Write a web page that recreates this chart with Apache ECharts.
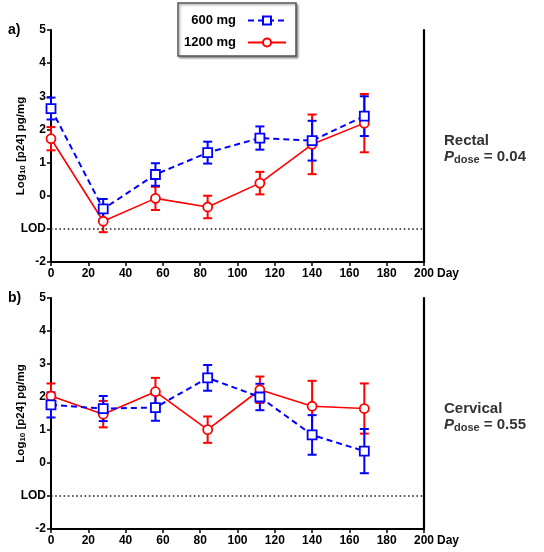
<!DOCTYPE html>
<html><head><meta charset="utf-8">
<script src="https://cdn.jsdelivr.net/npm/echarts@6/dist/echarts.min.js"></script>
<style>html,body{margin:0;padding:0;background:#fff}#c{width:544px;height:552px}</style>
</head><body><div id="c"></div>
<script>
// ---- data ----
const days = [0, 28, 56, 84, 112, 140, 168];
const rectal600 = [2.63, -0.40, 0.64, 1.30, 1.74, 1.66, 2.40];
const rectal600Err = [0.33, 0.30, 0.34, 0.33, 0.35, 0.60, 0.60];
const rectal1200 = [1.72, -0.77, -0.08, -0.34, 0.38, 1.55, 2.19];
const rectal1200Err = [0.35, 0.33, 0.35, 0.34, 0.34, 0.90, 0.88];
const cervical600 = [1.76, 1.65, 1.68, 2.58, 2.00, 0.85, 0.36];
const cervical600Err = [0.38, 0.38, 0.40, 0.39, 0.40, 0.60, 0.67];
const cervical1200 = [2.03, 1.48, 2.16, 1.01, 2.22, 1.72, 1.65];
const cervical1200Err = [0.38, 0.40, 0.42, 0.40, 0.40, 0.77, 0.76];
const seriesNames = ['600 mg', '1200 mg'];
const panelLabels = ['a)', 'b)'];
const siteNames = ['Rectal', 'Cervical'];
const pValues = ['0.04', '0.55'];
const lodValue = -1;
const yMin = -2, yMax = 5, yInterval = 1;
const xMin = 0, xMax = 200, xInterval = 20;

const FONT = "'Liberation Sans', Arial, sans-serif";
const BLUE = '#0000ff', RED = '#ff0000';

function pts(vals) { return days.map((d, i) => [d, vals[i]]); }
function errs(vals, e) { return days.map((d, i) => [d, vals[i] - e[i], vals[i] + e[i]]); }

function errRender(color) {
  return function (params, api) {
    const x = api.value(0), lo = api.value(1), hi = api.value(2);
    const p1 = api.coord([x, hi]), p2 = api.coord([x, lo]);
    const w = 4.5;
    const style = { stroke: color, lineWidth: 2, fill: null };
    return { type: 'group', children: [
      { type: 'line', shape: { x1: p1[0], y1: p1[1], x2: p2[0], y2: p2[1] }, style },
      { type: 'line', shape: { x1: p1[0] - w, y1: p1[1], x2: p1[0] + w, y2: p1[1] }, style },
      { type: 'line', shape: { x1: p2[0] - w, y1: p2[1], x2: p2[0] + w, y2: p2[1] }, style }
    ]};
  };
}

const grids = [
  { left: 51, top: 30, width: 373, height: 232, containLabel: false, outerBoundsMode: 'none' },
  { left: 51, top: 298, width: 373, height: 231, containLabel: false, outerBoundsMode: 'none' }
];

function xAxis(gi) {
  return {
    type: 'value', gridIndex: gi, min: xMin, max: xMax, interval: xInterval,
    axisLine: { show: true, onZero: false, lineStyle: { color: '#000', width: 2 } },
    axisTick: { show: true, inside: false, length: 4, lineStyle: { color: '#000', width: 1.5 } },
    axisLabel: { color: '#000', fontFamily: FONT, fontWeight: 'bold', fontSize: 12, margin: 6 },
    splitLine: { show: false },
    name: 'Day', nameLocation: 'end', nameGap: 13, nameMoveOverlap: false,
    nameTextStyle: { color: '#000', fontFamily: FONT, fontWeight: 'bold', fontSize: 12, verticalAlign: 'top', padding: [6, 0, 0, 0] }
  };
}
function yAxisLeft(gi) {
  return {
    type: 'value', gridIndex: gi, min: yMin, max: yMax, interval: yInterval,
    axisLine: { show: true, onZero: false, lineStyle: { color: '#000', width: 2 } },
    axisTick: { show: true, inside: false, length: 4, lineStyle: { color: '#000', width: 1.5 } },
    axisLabel: { color: '#000', fontFamily: FONT, fontWeight: 'bold', fontSize: 12, margin: 5,
      formatter: v => (v === lodValue ? 'LOD' : String(v)) },
    splitLine: { show: false },
    name: '{a|Log}{b|10}{a| [p24] pg/mg}', nameLocation: 'middle', nameGap: 24, nameRotate: 90,
    nameMoveOverlap: false,
    nameTextStyle: { rich: {
      a: { fontFamily: FONT, fontWeight: 'bold', fontSize: 11.5, color: '#000' },
      b: { fontFamily: FONT, fontWeight: 'bold', fontSize: 8, color: '#000', verticalAlign: 'bottom', padding: [4, 0, 0, 0] }
    } }
  };
}
function yAxisRight(gi) {
  return {
    type: 'value', gridIndex: gi, position: 'right', min: yMin, max: yMax, interval: yInterval,
    axisLine: { show: true, onZero: false, lineStyle: { color: '#000', width: 2.2 } },
    axisTick: { show: false }, axisLabel: { show: false }, splitLine: { show: false }
  };
}

const panels = [
  { s600: rectal600, e600: rectal600Err, s1200: rectal1200, e1200: rectal1200Err },
  { s600: cervical600, e600: cervical600Err, s1200: cervical1200, e1200: cervical1200Err }
];

const series = [];
panels.forEach((p, gi) => {
  const yIdx = gi * 2;
  series.push({
    name: seriesNames[1] + ' err', type: 'custom', xAxisIndex: gi, yAxisIndex: yIdx, z: 2,
    renderItem: errRender(RED), data: errs(p.s1200, p.e1200), encode: { x: 0, y: [1, 2] }, silent: true
  });
  series.push({
    name: seriesNames[0] + ' err', type: 'custom', xAxisIndex: gi, yAxisIndex: yIdx, z: 2,
    renderItem: errRender(BLUE), data: errs(p.s600, p.e600), encode: { x: 0, y: [1, 2] }, silent: true
  });
  series.push({
    name: seriesNames[1], type: 'line', xAxisIndex: gi, yAxisIndex: yIdx, z: 3,
    data: pts(p.s1200), symbol: 'circle', symbolSize: 9,
    itemStyle: { color: '#fff', borderColor: RED, borderWidth: 1.8 },
    lineStyle: { color: RED, width: 1.6 },
    markLine: {
      silent: true, symbol: 'none', label: { show: false },
      lineStyle: { color: '#222', width: 1.6, type: [1.6, 2.6] },
      data: [{ yAxis: lodValue }]
    }
  });
  series.push({
    name: seriesNames[0], type: 'line', xAxisIndex: gi, yAxisIndex: yIdx, z: 4,
    data: pts(p.s600), symbol: 'rect', symbolSize: 9,
    itemStyle: { color: '#fff', borderColor: BLUE, borderWidth: 1.8 },
    lineStyle: { color: BLUE, width: 2, type: [6, 4] }
  });
});

const graphics = [];
[0, 1].forEach(i => {
  const base = i === 0 ? 0 : 268;
  graphics.push({ type: 'text', left: 8, top: base + 23,
    style: { text: panelLabels[i], font: 'bold 14px ' + FONT, fill: '#000' } });
  graphics.push({ type: 'text', left: 444, top: base + 133,
    style: { text: siteNames[i], font: 'bold 15px ' + FONT, fill: '#333' } });
  graphics.push({ type: 'text', left: 444, top: base + 149,
    style: {
      text: '{p|P}{s|dose}{t| = ' + pValues[i] + '}',
      rich: {
        p: { font: 'italic bold 15px ' + FONT, fill: '#333' },
        s: { font: 'bold 11px ' + FONT, fill: '#333', verticalAlign: 'bottom', padding: [6, 0, 0, 0] },
        t: { font: 'bold 15px ' + FONT, fill: '#333' }
      }
    } });
});

const option = {
  backgroundColor: '#fff',
  animation: false,
  grid: grids,
  xAxis: [xAxis(0), xAxis(1)],
  yAxis: [yAxisLeft(0), yAxisRight(0), yAxisLeft(1), yAxisRight(1)],
  legend: {
    data: seriesNames, orient: 'vertical', left: 178, top: 3, align: 'right',
    padding: [11, 9, 7, 4], itemGap: 9, itemWidth: 38, itemHeight: 10,
    backgroundColor: '#fff', borderColor: '#555', borderWidth: 1.5,
    shadowColor: 'rgba(0,0,0,0.35)', shadowBlur: 2, shadowOffsetX: 1.5, shadowOffsetY: 1.5,
    selectedMode: false,
    formatter: '{a|{name}}',
    textStyle: { rich: { a: { width: 54, align: 'right', padding: [0, 7, 0, 0], lineHeight: 16,
      fontFamily: FONT, fontWeight: 'bold', fontSize: 13, color: '#000' } } }
  },
  graphic: graphics,
  series: series
};

const chart = echarts.init(document.getElementById('c'), null, { renderer: 'canvas' });
chart.setOption(option);
</script>
</body></html>
